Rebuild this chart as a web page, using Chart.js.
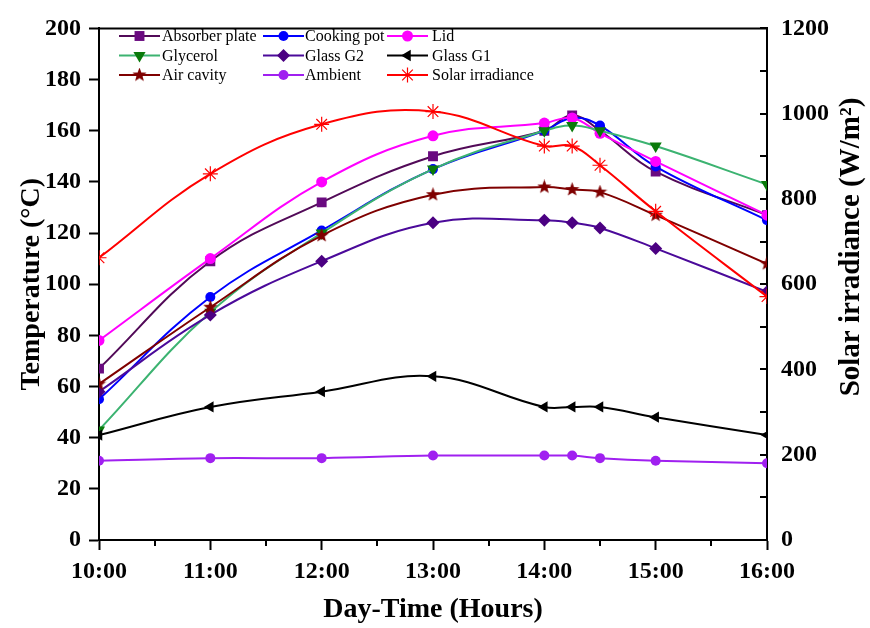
<!DOCTYPE html>
<html>
<head>
<meta charset="utf-8">
<script src="https://cdn.jsdelivr.net/npm/chart.js@4.4.0/dist/chart.umd.min.js"></script>
<style>
  html, body { margin: 0; padding: 0; background: #fff; }
  #wrap { width: 870px; height: 628px; }
</style>
</head>
<body>
<div id="wrap"><canvas id="chart"></canvas></div>
<script>
// ===== Data =====
const hours = [10, 11, 12, 13, 14, 14.25, 14.5, 15, 16];

const absorberPlate = [67, 109, 132, 150, 160, 166, 160, 144, 127];
const cookingPot    = [55, 95, 121, 145, 160, 165, 162, 146, 125];
const lid           = [78, 110, 140, 158, 163, 165, 159, 148, 127];
const glycerol      = [43, 89, 120, 145, 160, 162, 160, 154, 139];
const glassG2       = [58, 88, 109, 124, 125, 124, 122, 114, 97];
const glassG1       = [41, 52, 58, 64, 52, 52, 52, 48, 41];
const airCavity     = [61, 91, 119, 135, 138, 137, 136, 127, 108];
const ambient       = [31, 32, 32, 33, 33, 33, 32, 31, 30];
const solarIrradiance = [662, 859, 975, 1005, 924, 924, 879, 771, 571];

const SERIF = "'Liberation Serif', 'Times New Roman', serif";

// filled five-point star for the air cavity markers
const makeStar = (color, size) => {
    const c = document.createElement('canvas');
    c.width = size;
    c.height = size;
    const g = c.getContext('2d');
    const cx = size / 2, cy = size / 2, ro = size / 2, ri = ro * 0.42;
    g.beginPath();
    for (let k = 0; k < 10; k++) {
        const r = k % 2 === 0 ? ro : ri;
        const a = -Math.PI / 2 + k * Math.PI / 5;
        g.lineTo(cx + r * Math.cos(a), cy + r * Math.sin(a));
    }
    g.closePath();
    g.fillStyle = color;
    g.fill();
    return c;
};

const series = [
    { label: 'Absorber plate', data: absorberPlate, line: '#520a58', fill: '#6a0a80', style: 'rect', radius: 7 },
    { label: 'Cooking pot', data: cookingPot, line: '#0000ff', fill: '#0000ff', style: 'circle', radius: 5 },
    { label: 'Lid', data: lid, line: '#ff00ff', fill: '#ff00ff', style: 'circle', radius: 5.5 },
    { label: 'Glycerol', data: glycerol, line: '#3cb371', fill: '#0a7a0a', style: 'triangle', radius: 7, rotation: 180 },
    { label: 'Glass G2', data: glassG2, line: '#4b0a9a', fill: '#4b0082', style: 'rectRot', radius: 6.5 },
    { label: 'Glass G1', data: glassG1, line: '#000000', fill: '#000000', style: 'triangle', radius: 6.5, rotation: 270 },
    { label: 'Air cavity', data: airCavity, line: '#7f0000', fill: '#7f0000', style: makeStar('#7f0000', 15), radius: 7 },
    { label: 'Ambient', data: ambient, line: '#a020f0', fill: '#a020f0', style: 'circle', radius: 5 },
    { label: 'Solar irradiance', data: solarIrradiance, line: '#ff0000', fill: '#ff0000', style: 'star', radius: 7.5, axis: 'y1' }
];

const _datasets = series.map((s, index) => ({
    label: s.label,
    data: s.data.map((v, i) => ({ x: hours[i], y: v })),
    yAxisID: s.axis || 'y',
    borderColor: s.line,
    backgroundColor: s.fill,
    borderWidth: 2,
    pointStyle: s.style,
    pointRadius: s.radius,
    pointRotation: s.rotation || 0,
    pointBackgroundColor: s.fill,
    pointBorderColor: s.fill,
    pointBorderWidth: s.style === 'star' ? 1.2 : 0,
    tension: 0.4,
    order: -index
}));

// ===== Extra drawing: frame, minor ticks, right title, legend =====
const extrasPlugin = {
    id: 'extras',
    afterDraw(chart) {
        const ctx = chart.ctx;
        const area = chart.chartArea;
        const xs = chart.scales.x;
        const y1 = chart.scales.y1;
        ctx.save();
        ctx.strokeStyle = '#000';
        ctx.lineWidth = 2;

        // top frame line
        ctx.beginPath();
        ctx.moveTo(area.left - 1, area.top);
        ctx.lineTo(area.right + 1, area.top);
        ctx.stroke();

        // half-hour minor ticks
        for (let h = 10.5; h < 16; h += 1) {
            const px = Math.round(xs.getPixelForValue(h));
            ctx.beginPath();
            ctx.moveTo(px, area.bottom);
            ctx.lineTo(px, area.bottom + 6);
            ctx.stroke();
        }

        // inward ticks on the irradiance axis
        for (let v = 0; v <= 1200; v += 100) {
            const py = Math.round(y1.getPixelForValue(v));
            ctx.beginPath();
            ctx.moveTo(area.right, py);
            ctx.lineTo(area.right - 7, py);
            ctx.stroke();
        }

        // right axis title, reading bottom to top
        ctx.save();
        ctx.translate(852, 247);
        ctx.rotate(-Math.PI / 2);
        ctx.font = `bold 29px ${SERIF}`;
        ctx.fillStyle = '#000';
        ctx.textAlign = 'center';
        ctx.textBaseline = 'middle';
        ctx.fillText('Solar irradiance (W/m\u00B2)', 0, 0);
        ctx.restore();

        // legend, three columns
        const lineX = [119, 263, 387];
        const textX = [162, 305, 432];
        ctx.font = `16px ${SERIF}`;
        ctx.textBaseline = 'middle';
        ctx.textAlign = 'left';
        chart.data.datasets.forEach((ds, i) => {
            const col = i % 3;
            const row = Math.floor(i / 3);
            const y = 36 + row * 19.5;
            const x0 = lineX[col];
            ctx.strokeStyle = ds.borderColor;
            ctx.lineWidth = 2;
            ctx.beginPath();
            ctx.moveTo(x0, y);
            ctx.lineTo(x0 + 41, y);
            ctx.stroke();
            ctx.fillStyle = ds.pointBackgroundColor;
            ctx.strokeStyle = ds.pointBorderColor;
            ctx.lineWidth = ds.pointBorderWidth;
            Chart.helpers.drawPoint(ctx, {
                pointStyle: ds.pointStyle,
                rotation: ds.pointRotation,
                radius: ds.pointRadius,
                borderWidth: ds.pointBorderWidth
            }, x0 + 20.5, y);
            ctx.fillStyle = '#000';
            ctx.fillText(ds.label, textX[col], y + 1);
        });
        ctx.restore();
    }
};

// ===== Options =====
const tickFont = { family: SERIF, size: 24, weight: 'bold' };

const options = {
    responsive: true,
    maintainAspectRatio: false,
    animation: false,
    devicePixelRatio: 1,
    layout: { padding: { top: 22, right: 0, bottom: 0, left: 0 } },
    plugins: {
        legend: { display: false },
        tooltip: { enabled: false }
    },
    scales: {
        x: {
            type: 'linear',
            position: 'bottom',
            min: 10,
            max: 16,
            ticks: {
                stepSize: 1,
                autoSkip: false,
                maxRotation: 0,
                color: '#000',
                font: tickFont,
                padding: 7,
                callback: (v) => `${v}:00`
            },
            grid: { drawOnChartArea: false, tickLength: 10, tickWidth: 2, tickColor: '#000' },
            border: { color: '#000', width: 2 },
            title: {
                display: true,
                text: 'Day-Time (Hours)',
                color: '#000',
                font: { family: SERIF, size: 28, weight: 'bold' },
                padding: { top: 0, bottom: 1 }
            },
            afterFit: (scale) => { scale.height = 88; }
        },
        y: {
            position: 'left',
            min: 0,
            max: 200,
            ticks: {
                stepSize: 10,
                color: '#000',
                font: tickFont,
                padding: 8,
                callback: (v) => (v % 20 === 0 ? v : '')
            },
            grid: { drawOnChartArea: false, tickLength: 10, tickWidth: 2, tickColor: '#000' },
            border: { color: '#000', width: 2 },
            title: {
                display: true,
                text: 'Temperature (\u00B0C)',
                color: '#000',
                font: { family: SERIF, size: 28, weight: 'bold' },
                padding: { top: 15, bottom: 0 }
            },
            afterFit: (scale) => { scale.width = 99; }
        },
        y1: {
            position: 'right',
            min: 0,
            max: 1200,
            ticks: {
                stepSize: 100,
                color: '#000',
                font: tickFont,
                padding: 14,
                callback: (v) => (v % 200 === 0 ? v : '')
            },
            grid: { drawOnChartArea: false, drawTicks: false },
            border: { color: '#000', width: 2 },
            afterFit: (scale) => { scale.width = 103; }
        }
    }
};

// ===== Chart =====
const chart = new Chart(document.getElementById('chart'), {
    type: 'line',
    data: { datasets: _datasets },
    options: options,
    plugins: [extrasPlugin]
});
</script>
</body>
</html>
